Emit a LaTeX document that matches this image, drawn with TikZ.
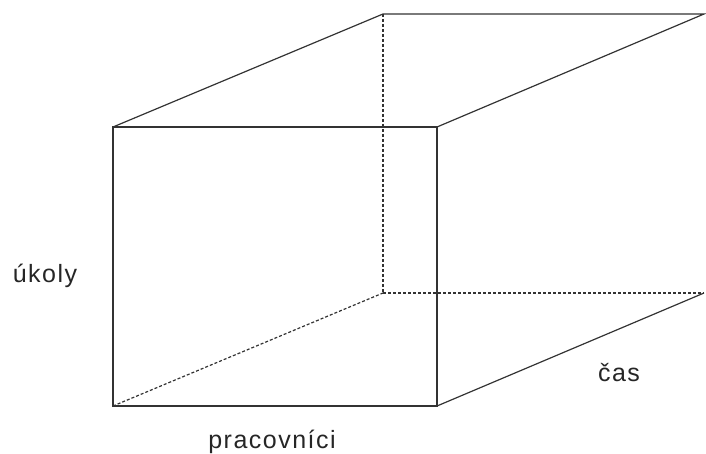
\documentclass[tikz,border=0pt]{standalone}
\usepackage{fontspec}
\setmainfont{Liberation Sans}[LetterSpace=6]
\begin{document}
\begin{tikzpicture}[x=1pt,y=-1pt,
  edge/.style={draw=black!80,line width=1.2pt},
  hidden/.style={edge,dash pattern=on 3pt off 2pt},
  lbl/.style={anchor=base,inner sep=0pt,font=\fontsize{25}{30}\selectfont,text=black!85}]
\useasboundingbox (0,0) rectangle (706,454);
% front face
\coordinate (A) at (113,127);
\coordinate (B) at (437,127);
\coordinate (C) at (437,406);
\coordinate (D) at (113,406);
% back face
\coordinate (E) at (383,14);
\coordinate (F) at (704,14);
\coordinate (G) at (704,293);
\coordinate (H) at (383,293);
\draw[edge] (A) -- (B) -- (C) -- (D) -- cycle;
\draw[edge] (A) -- (E) -- (F) -- (B);
\draw[edge] (C) -- (G);
\draw[hidden] (E) -- (H);
\draw[hidden] (H) -- (G);
\draw[hidden] (D) -- (H);
\node[lbl] (ukoly) at (45,282) {úkoly};
\node[lbl] (prac) at (272,448) {pracovníci};
\node[lbl] (cas) at (619,381) {čas};
\end{tikzpicture}
\end{document}
